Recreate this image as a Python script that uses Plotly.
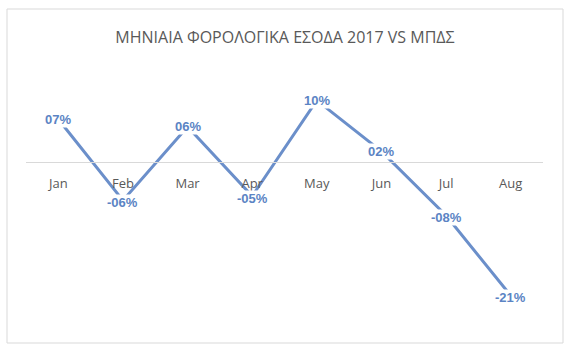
import plotly.graph_objects as go

months = ["Jan", "Feb", "Mar", "Apr", "May", "Jun", "Jul", "Aug"]
values = [0.068, -0.061, 0.056, -0.054, 0.098, 0.017, -0.085, -0.212]
title = "ΜΗΝΙΑΙΑ ΦΟΡΟΛΟΓΙΚΑ ΕΣΟΔΑ 2017 VS ΜΠΔΣ"

def fmt(v):
    n = round(abs(v) * 100)
    return ("-" if v < 0 else "") + f"{n:02d}%"

W, H = 570, 352
ml, mr, mt, mb = 26, 27, 60, 30
ymin, ymax = -0.254, 0.162

fig = go.Figure()
fig.add_trace(go.Scatter(
    x=months, y=values, mode="lines",
    line=dict(color="#6B8FCA", width=3),
    hoverinfo="skip", showlegend=False,
))

for m, v in zip(months, values):
    fig.add_annotation(
        x=m, y=v, text=fmt(v), showarrow=False,
        bgcolor="white", borderpad=0, yshift=-2 if v < 0 else 0,
        font=dict(family="Liberation Sans", size=13, color="#5B84C4", weight="bold"),
    )

pos = (0 - ymin) / (ymax - ymin)
fig.update_layout(
    width=W, height=H,
    margin=dict(l=ml, r=mr, t=mt, b=mb),
    paper_bgcolor="white", plot_bgcolor="white",
    title=dict(text=title, x=0.5, xanchor="center", y=1 - 37 / H, yanchor="middle",
               font=dict(family="Open Sans", size=16, color="#595959")),
    xaxis=dict(range=[-0.5, 7.5], anchor="free", position=pos,
               showline=True, linecolor="#D9D9D9", linewidth=1,
               showgrid=False, zeroline=False, ticks="",
               ticklabelstandoff=9,
               tickfont=dict(family="Open Sans", size=13, color="#595959")),
    yaxis=dict(range=[ymin, ymax], visible=False, showgrid=False, zeroline=False),
)

pw = W - ml - mr
ph = H - mt - mb
x0 = (7 - ml) / pw
x1 = (563 - ml) / pw
y1 = 1 - (9 - mt) / ph
y0 = 1 - (343 - mt) / ph
fig.add_shape(type="rect", xref="paper", yref="paper", x0=x0, x1=x1, y0=y0, y1=y1,
              line=dict(color="#D9D9D9", width=1), layer="below")

fig.write_html("out.html")
